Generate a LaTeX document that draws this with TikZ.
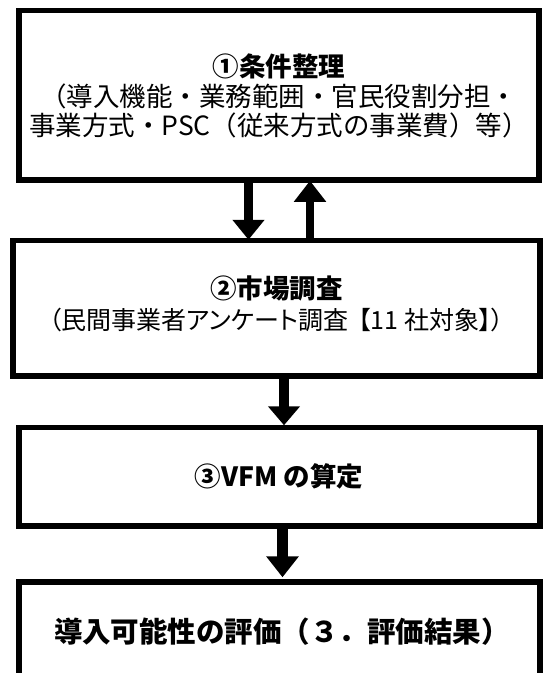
\documentclass[tikz,border=0pt]{standalone}
\usepackage{fontspec}
\setmainfont{Noto Sans CJK JP}
\newfontfamily\paltfont{Noto Sans CJK JP}[RawFeature=+palt]
\usetikzlibrary{arrows.meta}
\begin{document}
\begin{tikzpicture}[x=1pt,y=-1pt,
  box/.style={draw=black, line width=5.5pt, fill=white, inner sep=0pt},
  lbl/.style={inner sep=0pt, align=center, text=black, font=\fontsize{26.5}{29.5}\selectfont},
  fat/.style={line width=9.5pt, -{Triangle[width=31pt,length=20pt]}}]
\path[use as bounding box, clip] (0,0) rectangle (546,673);
\fill[white] (0,0) rectangle (546,673);
% boxes
\node[box, minimum width=520pt, minimum height=169.5pt] (b1) at (279,95.25) {};
\node[box, minimum width=527pt, minimum height=135.5pt] (b2) at (276.5,308.25) {};
\node[box, minimum width=521pt, minimum height=98.5pt] (b3) at (279.5,476.75) {};
\node[box, minimum width=521pt, minimum height=100pt] (b4) at (279.5,632) {};
% texts
\node[lbl] (t1) at (279,96) {\textbf{①条件整理}\\（導入機能・業務範囲・官民役割分担・\\事業方式・PSC（従来方式の事業費）等）};
\node[lbl, font=\fontsize{26.5}{30.5}\selectfont] (t2) at (276.5,304) {\textbf{②市場調査}\\{\paltfont\fontsize{25}{30.5}\selectfont （民間事業者アンケート調査\hspace{0.4em}【11 社対象】）}};
\node[lbl] (t3) at (279,476) {\textbf{③VFM の算定}};
\node[lbl, font=\fontsize{28.5}{31}\selectfont] (t4) at (282,632) {\textbf{導入可能性の評価（３．評価結果）}};
% arrow x positions
\coordinate (a1x) at (248.5,0);
\coordinate (a2x) at (310,0);
\coordinate (a3x) at (284,0);
\coordinate (a4x) at (282.5,0);
% arrows
\draw[fat, line width=9pt] (b1.south -| a1x) -- ([yshift=-2pt]b2.north -| a1x);
\draw[fat, line width=8pt, -{Triangle[width=31pt,length=21pt]}] (b2.north -| a2x) -- ([yshift=2pt]b1.south -| a2x);
\draw[fat, line width=10.5pt, -{Triangle[width=31pt,length=19pt]}] (b2.south -| a3x) -- ([yshift=-0.5pt]b3.north -| a3x);
\draw[fat, line width=11pt, -{Triangle[width=31.5pt,length=21pt]}] (b3.south -| a4x) -- ([yshift=2pt]b4.north -| a4x);
\end{tikzpicture}
\end{document}
